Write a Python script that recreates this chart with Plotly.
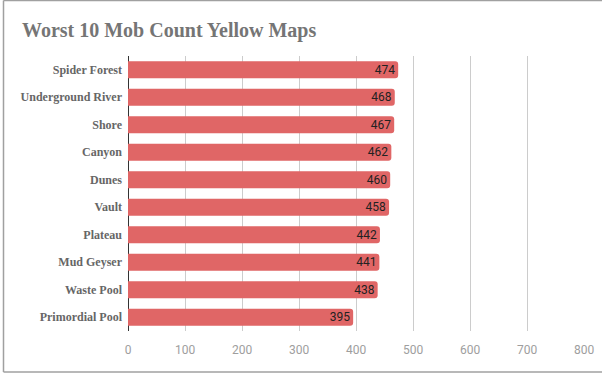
import plotly.graph_objects as go

categories = ["Spider Forest", "Underground River", "Shore", "Canyon", "Dunes",
              "Vault", "Plateau", "Mud Geyser", "Waste Pool", "Primordial Pool"]
values = [474, 468, 467, 462, 460, 458, 442, 441, 438, 395]
x_ticks = [0, 100, 200, 300, 400, 500, 600, 700, 800]

W, H = 602, 374
L, R, T, B = 128, 18, 56, 43
pw, ph = W - L - R, H - T - B

def px_x(p):
    return (p - L) / pw

def px_y(p):
    return (H - B - p) / ph

fig = go.Figure()
fig.add_trace(go.Bar(
    y=categories, x=values, orientation="h",
    marker=dict(color="#e06666", line=dict(width=0)),
    width=0.62,
    text=[str(v) for v in values],
    textposition="inside", insidetextanchor="end",
    constraintext="none",
    textfont=dict(family="Roboto", size=12, color="#222222"),
    cliponaxis=False,
))

border = "#a0a0a0"
shapes = [
    dict(type="line", xref="paper", yref="paper", x0=px_x(3.5), x1=px_x(602), y0=px_y(0.5), y1=px_y(0.5), line=dict(color=border, width=1.5)),
    dict(type="line", xref="paper", yref="paper", x0=px_x(3.5), x1=px_x(3.5), y0=px_y(0.5), y1=px_y(372), line=dict(color=border, width=1.5)),
    dict(type="line", xref="paper", yref="paper", x0=px_x(3.5), x1=px_x(602), y0=px_y(372), y1=px_y(372), line=dict(color=border, width=1.5)),
]

fig.update_layout(
    width=W, height=H,
    margin=dict(l=L, r=R, t=T, b=B, autoexpand=False),
    paper_bgcolor="white", plot_bgcolor="white",
    showlegend=False,
    barcornerradius=3,
    title=dict(text="<b>Worst 10 Mob Count Yellow Maps</b>",
               x=22 / W, xref="container", xanchor="left",
               y=1 - 30 / H, yref="container", yanchor="middle",
               font=dict(family="Liberation Serif", size=20, color="#757575")),
    shapes=shapes,
    xaxis=dict(range=[0, 800], tickvals=x_ticks, ticktext=[str(t) for t in x_ticks],
               automargin=False,
               showgrid=True, gridcolor="#cccccc", gridwidth=1,
               zeroline=True, zerolinecolor="#333333", zerolinewidth=1,
               showline=False, ticks="", ticklabelstandoff=10,
               tickfont=dict(family="Roboto", size=12, color="#9e9e9e")),
    yaxis=dict(autorange="reversed", showgrid=False, showline=False, zeroline=False,
               automargin=False,
               ticks="", ticklabelstandoff=5,
               tickfont=dict(family="Liberation Serif", size=12, color="#666666"),
               tickprefix="<b>", ticksuffix="</b>"),
)

fig.write_html("out.html", config={"displayModeBar": False},
               post_script="document.body.style.margin='0';document.body.style.padding='0';")
